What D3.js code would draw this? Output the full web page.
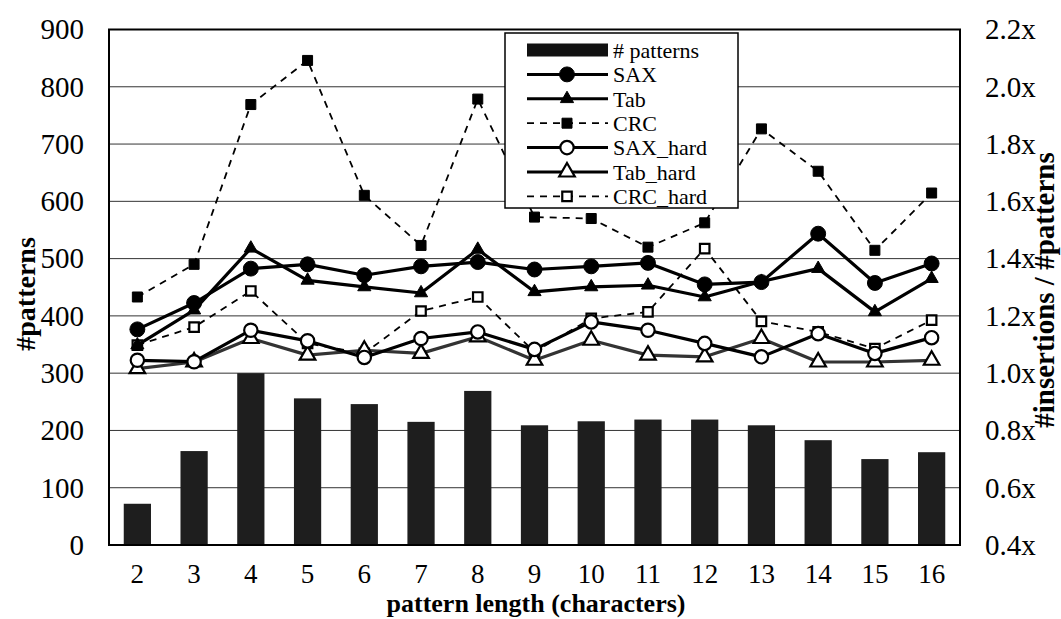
<!DOCTYPE html>
<html>
<head>
<meta charset="utf-8">
<script src="https://cdn.jsdelivr.net/npm/d3@7/dist/d3.min.js"></script>
<style>
  html, body { margin: 0; padding: 0; background: #fff; }
  svg text { font-family: "Liberation Serif", "Times New Roman", "DejaVu Serif", serif; }
</style>
</head>
<body>
<svg id="chart" width="1061" height="619"></svg>
<script>
// ---- data ----
const categories = [2, 3, 4, 5, 6, 7, 8, 9, 10, 11, 12, 13, 14, 15, 16];
const patterns = [72, 164, 300, 256, 246, 215, 269, 209, 216, 219, 219, 209, 183, 150, 162];
const sax      = [1.153, 1.245, 1.365, 1.380, 1.342, 1.373, 1.388, 1.362, 1.373, 1.385, 1.310, 1.318, 1.487, 1.315, 1.383];
const tab      = [1.098, 1.220, 1.436, 1.324, 1.301, 1.280, 1.432, 1.284, 1.301, 1.307, 1.266, 1.320, 1.365, 1.214, 1.330];
const crc      = [1.266, 1.380, 1.938, 2.092, 1.621, 1.446, 1.957, 1.545, 1.540, 1.440, 1.525, 1.853, 1.705, 1.429, 1.629];
const saxHard  = [1.045, 1.040, 1.150, 1.113, 1.055, 1.121, 1.144, 1.083, 1.179, 1.150, 1.104, 1.057, 1.138, 1.069, 1.124];
const tabHard  = [1.016, 1.039, 1.121, 1.063, 1.080, 1.069, 1.127, 1.045, 1.115, 1.063, 1.057, 1.121, 1.039, 1.039, 1.045];
const crcHard  = [1.098, 1.161, 1.287, 1.104, 1.069, 1.217, 1.266, 1.074, 1.191, 1.214, 1.435, 1.181, 1.144, 1.086, 1.185];
const leftTicks = [0, 100, 200, 300, 400, 500, 600, 700, 800, 900];
const rightTicks = [0.4, 0.6, 0.8, 1.0, 1.2, 1.4, 1.6, 1.8, 2.0, 2.2];
const seriesNames = ["SAX", "Tab", "CRC", "SAX_hard", "Tab_hard", "CRC_hard"];

// ---- layout ----
const FONT = '"Liberation Serif", "Times New Roman", "DejaVu Serif", serif';
const svg = d3.select("#chart");
const m = { left: 109, right: 960, top: 29.5, bottom: 545 };

const x = d3.scaleBand().domain(categories).range([m.left, m.right]).padding(0);
const yL = d3.scaleLinear().domain([0, 900]).range([m.bottom, m.top]);
const yR = d3.scaleLinear().domain([0.4, 2.2]).range([m.bottom, m.top]);
const cx = d => x(d) + x.bandwidth() / 2;

// gridlines
svg.append("g").selectAll("line").data(leftTicks).join("line")
  .attr("x1", m.left).attr("x2", m.right)
  .attr("y1", d => yL(d)).attr("y2", d => yL(d))
  .attr("stroke", "#333").attr("stroke-width", 1);

// bars
const barW = x.bandwidth() * 0.48;
svg.append("g").selectAll("rect").data(patterns).join("rect")
  .attr("x", (d, i) => cx(categories[i]) - barW / 2)
  .attr("width", barW)
  .attr("y", d => yL(d))
  .attr("height", d => yL(0) - yL(d))
  .attr("fill", "#1e1e1e");

// series definitions
const series = [
  { name: seriesNames[0], values: sax, dash: null, width: 3.2, color: "#000", marker: "circle", filled: true },
  { name: seriesNames[1], values: tab, dash: null, width: 3.2, color: "#000", marker: "triangle", filled: true },
  { name: seriesNames[2], values: crc, dash: "7,6", width: 1.8, color: "#000", marker: "square", filled: true },
  { name: seriesNames[3], values: saxHard, dash: null, width: 3.2, color: "#000", marker: "circle", filled: false },
  { name: seriesNames[4], values: tabHard, dash: null, width: 3.2, color: "#333", marker: "triangle", filled: false },
  { name: seriesNames[5], values: crcHard, dash: "7,6", width: 1.8, color: "#000", marker: "square", filled: false }
];

function symbolFor(s) {
  if (s.marker === "circle") return d3.symbol().type(d3.symbolCircle).size(s.filled ? 175 : 140)();
  if (s.marker === "triangle") return d3.symbol().type(d3.symbolTriangle).size(s.filled ? 75 : 105)();
  return d3.symbol().type(d3.symbolSquare).size(s.filled ? 100 : 90)();
}

function drawMarker(g, s, px, py) {
  g.append("path")
    .attr("d", symbolFor(s))
    .attr("transform", `translate(${px},${py})`)
    .attr("fill", s.filled ? "#000" : "#fff")
    .attr("stroke", "#000")
    .attr("stroke-width", s.filled ? 1 : 2.2);
}

const line = d3.line().x(d => cx(d.c)).y(d => yR(d.v));

const order = [5, 4, 3, 2, 1, 0];
order.forEach(k => {
  const s = series[k];
  const pts = s.values.map((v, i) => ({ c: categories[i], v }));
  const g = svg.append("g");
  g.append("path").datum(pts)
    .attr("d", line)
    .attr("fill", "none")
    .attr("stroke", s.color)
    .attr("stroke-width", s.width)
    .attr("stroke-dasharray", s.dash)
    .attr("stroke-linejoin", "round");
  pts.forEach(p => drawMarker(g, s, cx(p.c), yR(p.v)));
});

// frame
svg.append("rect")
  .attr("x", m.left).attr("y", m.top)
  .attr("width", m.right - m.left).attr("height", m.bottom - m.top)
  .attr("fill", "none").attr("stroke", "#000").attr("stroke-width", 2);

function styleAxis(g, size) {
  g.attr("font-family", FONT);
  g.select(".domain").remove();
  g.selectAll("text").attr("font-size", size).attr("fill", "#000").style("font-family", FONT);
}

// left axis labels
const gl = svg.append("g").attr("transform", `translate(${m.left},0)`)
  .call(d3.axisLeft(yL).tickValues(leftTicks).tickSize(0).tickPadding(25));
styleAxis(gl, 29);

// right axis labels
const gr = svg.append("g").attr("transform", `translate(${m.right},0)`)
  .call(d3.axisRight(yR).tickValues(rightTicks).tickSize(0).tickPadding(25)
    .tickFormat(d => d3.format(".1f")(d) + "x"));
styleAxis(gr, 29);

// bottom axis labels
const gb = svg.append("g").attr("transform", `translate(0,${m.bottom})`)
  .call(d3.axisBottom(x).tickSize(0).tickPadding(19));
styleAxis(gb, 27);

// axis titles
svg.append("text")
  .attr("x", 536).attr("y", 612)
  .attr("text-anchor", "middle")
  .attr("font-size", 26).attr("font-weight", "bold")
  .style("font-family", FONT)
  .text("pattern length (characters)");

svg.append("text")
  .attr("transform", `translate(35,294) rotate(-90)`)
  .attr("text-anchor", "middle")
  .attr("font-size", 28).attr("font-weight", "bold")
  .style("font-family", FONT)
  .text("#patterns");

svg.append("text")
  .attr("transform", `translate(1054,290) rotate(-90)`)
  .attr("text-anchor", "middle")
  .attr("font-size", 29).attr("font-weight", "bold")
  .style("font-family", FONT)
  .text("#insertions / #patterns");

// legend
const lg = svg.append("g");
lg.append("rect")
  .attr("x", 505).attr("y", 33).attr("width", 233).attr("height", 175)
  .attr("fill", "#fff").attr("stroke", "#000").attr("stroke-width", 1.5);
const rowY = i => 50 + i * 24.4;
lg.append("rect").attr("x", 527).attr("y", rowY(0) - 6.5).attr("width", 81).attr("height", 13).attr("fill", "#111");
lg.append("text").attr("x", 613).attr("y", rowY(0)).attr("dy", "0.35em")
  .attr("font-size", 22).style("font-family", FONT).text("# patterns");
series.forEach((s, i) => {
  const yy = rowY(i + 1);
  lg.append("line").attr("x1", 527).attr("x2", 608).attr("y1", yy).attr("y2", yy)
    .attr("stroke", "#000").attr("stroke-width", s.dash ? 1.8 : 3)
    .attr("stroke-dasharray", s.dash);
  drawMarker(lg, s, 567, yy);
  lg.append("text").attr("x", 613).attr("y", yy).attr("dy", "0.35em")
    .attr("font-size", 22).style("font-family", FONT).text(s.name);
});
</script>
</body>
</html>
